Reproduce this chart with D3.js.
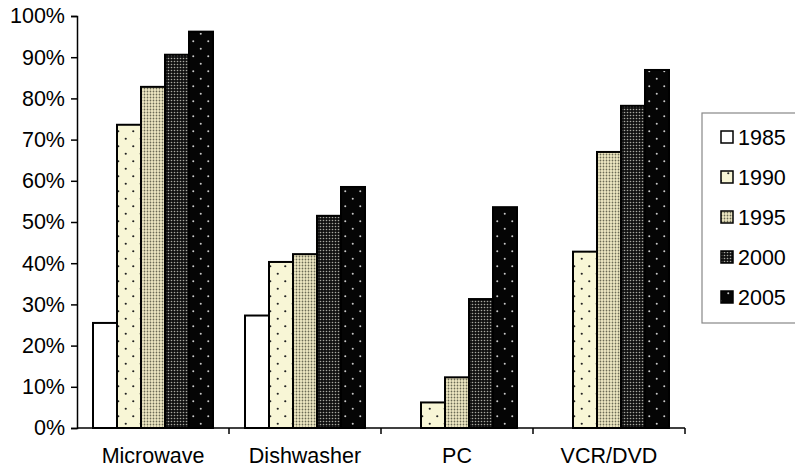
<!DOCTYPE html>
<html>
<head>
<meta charset="utf-8">
<script src="https://cdn.jsdelivr.net/npm/d3@7"></script>
<style>
  body { margin: 0; background: #fff; }
  svg { display: block; font-family: "Liberation Sans", Arial, Helvetica, sans-serif; }
</style>
</head>
<body>
<svg id="chart" width="795" height="468"></svg>
<script>
// chart data
var categories = ["Microwave", "Dishwasher", "PC", "VCR/DVD"];
var years = ["1985", "1990", "1995", "2000", "2005"];
var values1985 = [25.5, 27.3, 0, 0];
var values1990 = [73.6, 40.3, 6.2, 42.8];
var values1995 = [82.8, 42.2, 12.3, 67.0];
var values2000 = [90.6, 51.5, 31.3, 78.2];
var values2005 = [96.2, 58.5, 53.6, 86.9];
var yTicks = [0, 10, 20, 30, 40, 50, 60, 70, 80, 90, 100];

var series = [values1985, values1990, values1995, values2000, values2005];
var fontSize = 21.5;

var svg = d3.select("#chart");
var defs = svg.append("defs");

// fill patterns, roughly like the old excel ones
function dotPattern(id, bg, dot, step, r, stagger) {
    var p = defs.append("pattern")
        .attr("id", id)
        .attr("patternUnits", "userSpaceOnUse")
        .attr("width", step * 2)
        .attr("height", step * 2);
    p.append("rect").attr("width", step * 2).attr("height", step * 2).attr("fill", bg);
    var pts = stagger ? [[step / 2, step / 2], [step * 1.5, step * 1.5]]
                      : [[step / 2, step / 2], [step * 1.5, step / 2], [step / 2, step * 1.5], [step * 1.5, step * 1.5]];
    pts.forEach(function (d) {
        p.append("circle").attr("cx", d[0]).attr("cy", d[1]).attr("r", r).attr("fill", dot);
    });
}
dotPattern("p1990", "#f8f6d6", "#222", 7.5, 1.1, true);
dotPattern("p1995", "#efe9c4", "#6b6a55", 3, 0.9, false);
dotPattern("p2000", "#111", "#a8a8a0", 3, 0.8, false);
dotPattern("p2005", "#050505", "#c8c8c8", 7.5, 1.0, true);

var fills = ["#ffffff", "url(#p1990)", "url(#p1995)", "url(#p2000)", "url(#p2005)"];

var x0 = d3.scaleBand().domain(categories).range([77, 685]);
var x1 = d3.scaleBand().domain(years).range([16, 136]);
var y = d3.scaleLinear().domain([0, 100]).range([428, 16]);

// bars
var groups = svg.append("g").selectAll("g")
    .data(categories)
    .join("g")
    .attr("transform", function (d) { return "translate(" + x0(d) + ",0)"; });

groups.selectAll("rect")
    .data(function (c, ci) {
        return years.map(function (yr, yi) { return { year: yr, yi: yi, v: series[yi][ci] }; })
            .filter(function (d) { return d.v > 0; });
    })
    .join("rect")
    .attr("x", function (d) { return x1(d.year); })
    .attr("width", x1.bandwidth())
    .attr("y", function (d) { return y(d.v); })
    .attr("height", function (d) { return y(0) - y(d.v); })
    .attr("fill", function (d) { return fills[d.yi]; })
    .attr("stroke", "#000")
    .attr("stroke-width", 2);

// y axis
var yAxis = d3.axisLeft(y)
    .tickValues(yTicks)
    .tickSize(6)
    .tickFormat(function (d) { return d + "%"; });
var ya = svg.append("g").attr("transform", "translate(77,0)").call(yAxis);
ya.select(".domain").attr("stroke", "#000").attr("stroke-width", 1.5);
ya.selectAll(".tick line").attr("stroke", "#000").attr("stroke-width", 1.5);
ya.selectAll(".tick text")
    .attr("font-size", fontSize)
    .attr("font-family", "Liberation Sans, Arial, sans-serif")
    .attr("fill", "#000")
    .attr("x", -12);

// x axis
var xa = svg.append("g").attr("transform", "translate(0,428)");
xa.append("line")
    .attr("x1", 77).attr("x2", 685)
    .attr("stroke", "#000").attr("stroke-width", 1.5);
xa.selectAll(".xt")
    .data(categories)
    .join("line")
    .attr("class", "xt")
    .attr("x1", function (d) { return x0(d) + x0.bandwidth(); })
    .attr("x2", function (d) { return x0(d) + x0.bandwidth(); })
    .attr("y1", 0).attr("y2", 6)
    .attr("stroke", "#000").attr("stroke-width", 1.5);
xa.selectAll(".xl")
    .data(categories)
    .join("text")
    .attr("class", "xl")
    .attr("x", function (d) { return x0(d) + x0.bandwidth() / 2; })
    .attr("y", 35)
    .attr("text-anchor", "middle")
    .attr("font-size", fontSize)
    .attr("fill", "#000")
    .text(function (d) { return d; });

// legend
var lg = svg.append("g").attr("transform", "translate(702,113)");
lg.append("rect")
    .attr("x", 0).attr("y", 0)
    .attr("width", 110).attr("height", 210)
    .attr("fill", "#fff")
    .attr("stroke", "#888").attr("stroke-width", 1.2);
var items = lg.selectAll(".li")
    .data(years)
    .join("g")
    .attr("class", "li")
    .attr("transform", function (d, i) { return "translate(0," + (24 + i * 40) + ")"; });
items.append("rect")
    .attr("x", 19).attr("y", -6)
    .attr("width", 12).attr("height", 12)
    .attr("fill", function (d, i) { return fills[i]; })
    .attr("stroke", "#000").attr("stroke-width", 1.5);
items.append("text")
    .attr("x", 36).attr("y", 7.5)
    .attr("font-size", fontSize)
    .attr("fill", "#000")
    .text(function (d) { return d; });
</script>
</body>
</html>
